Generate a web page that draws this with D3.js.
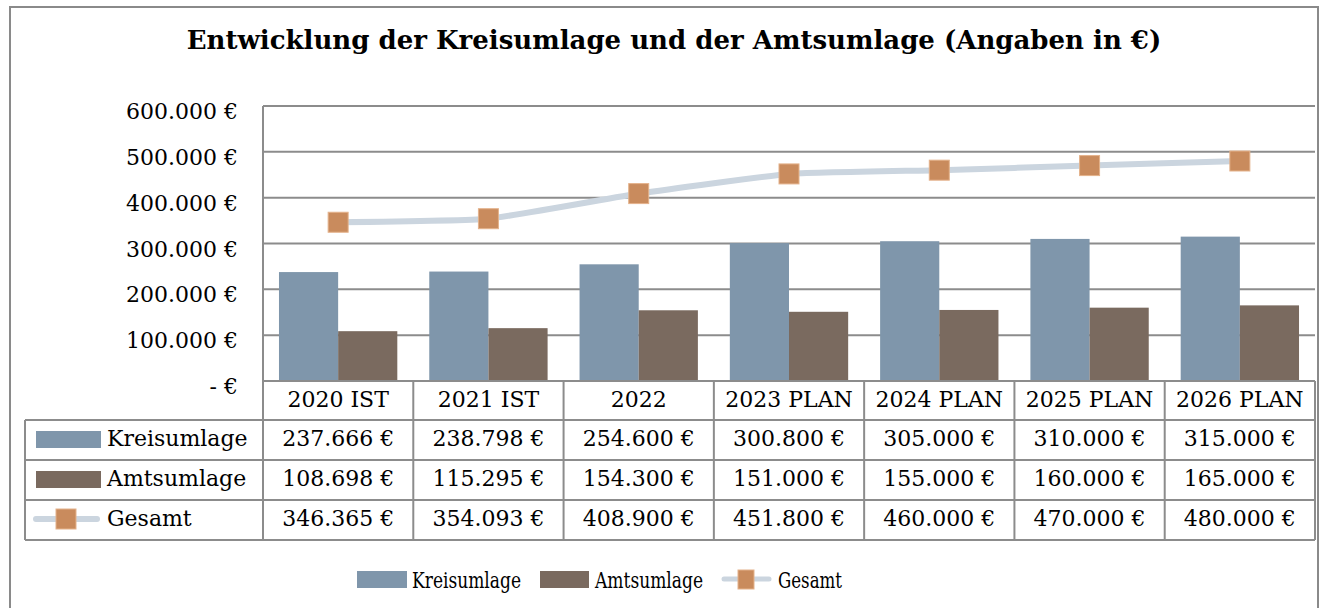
<!DOCTYPE html>
<html>
<head>
<meta charset="utf-8">
<script src="https://cdn.jsdelivr.net/npm/d3@7/dist/d3.min.js"></script>
<style>
  html, body { margin: 0; padding: 0; background: #fff; }
  svg { display: block; }
  text { font-family: "DejaVu Serif", "Liberation Serif", serif; fill: #000; }
</style>
</head>
<body>
<svg id="chart" width="1322" height="608"></svg>
<script>
// ---- data ----
const title = "Entwicklung der Kreisumlage und der Amtsumlage (Angaben in €)";
const categories = ["2020 IST", "2021 IST", "2022", "2023 PLAN", "2024 PLAN", "2025 PLAN", "2026 PLAN"];
const seriesNames = ["Kreisumlage", "Amtsumlage", "Gesamt"];
const kreisumlage = [237666, 238798, 254600, 300800, 305000, 310000, 315000];
const amtsumlage  = [108698, 115295, 154300, 151000, 155000, 160000, 165000];
const gesamt      = [346365, 354093, 408900, 451800, 460000, 470000, 480000];
const yTicks = [0, 100000, 200000, 300000, 400000, 500000, 600000];

// ---- styles ----
const colors = { Kreisumlage: "#7f96ab", Amtsumlage: "#7a6a5f", line: "#cbd5df", marker: "#c98b5d", markerStroke: "#e4b28b" };
const gridColor = "#8c8c8c";

const de = d3.formatLocale({ decimal: ",", thousands: ".", grouping: [3], currency: ["", " €"] });
const num = de.format(",.0f");
const fmt = v => v === 0 ? "- €" : num(v) + " €";

const svg = d3.select("#chart");

// outer frame
svg.append("rect").attr("x", 10).attr("y", 7).attr("width", 1308).attr("height", 620)
  .attr("fill", "none").attr("stroke", "#8a8a8a").attr("stroke-width", 2);

// title
svg.append("text").attr("x", 674).attr("y", 49).attr("text-anchor", "middle")
  .attr("font-weight", "bold").attr("font-size", 26).text(title);

// scales
const plotL = 263, plotR = 1315, plotT = 106, plotB = 381;
const x = d3.scaleBand().domain(categories).range([plotL, plotR]).paddingInner(0).paddingOuter(0);
const x1 = d3.scaleBand().domain(["Kreisumlage", "Amtsumlage"]).range([0, x.bandwidth()]).paddingInner(0).paddingOuter(0.27);
const y = d3.scaleLinear().domain([0, 600000]).range([plotB, plotT]);

// gridlines
svg.append("g").selectAll("line").data(yTicks.filter(d => d > 0)).join("line")
  .attr("x1", plotL).attr("x2", plotR).attr("y1", d => y(d)).attr("y2", d => y(d))
  .attr("stroke", gridColor).attr("stroke-width", 2);

// y axis line
svg.append("line").attr("x1", plotL).attr("x2", plotL).attr("y1", plotT).attr("y2", plotB)
  .attr("stroke", gridColor).attr("stroke-width", 2);

// y labels
svg.append("g").selectAll("text").data(yTicks).join("text")
  .attr("x", 238).attr("y", d => y(d) + 13).attr("text-anchor", "end")
  .attr("font-size", 22).text(fmt);

// bars
const barData = [];
categories.forEach((c, i) => {
  barData.push({ c, s: "Kreisumlage", v: kreisumlage[i] });
  barData.push({ c, s: "Amtsumlage", v: amtsumlage[i] });
});
svg.append("g").selectAll("rect").data(barData).join("rect")
  .attr("x", d => x(d.c) + x1(d.s)).attr("width", x1.bandwidth())
  .attr("y", d => y(d.v)).attr("height", d => y(0) - y(d.v))
  .attr("fill", d => colors[d.s]);

// line
const lineGen = d3.line().x((d, i) => x(categories[i]) + x.bandwidth() / 2).y(d => y(d)).curve(d3.curveCardinal.tension(0.6));
svg.append("path").datum(gesamt).attr("d", lineGen).attr("fill", "none")
  .attr("stroke", colors.line).attr("stroke-width", 6).attr("stroke-linecap", "round");
const ms = 20;
svg.append("g").selectAll("rect").data(gesamt).join("rect")
  .attr("x", (d, i) => x(categories[i]) + x.bandwidth() / 2 - ms / 2)
  .attr("y", d => y(d) - ms / 2).attr("width", ms).attr("height", ms)
  .attr("fill", colors.marker).attr("stroke", colors.markerStroke).attr("stroke-width", 1);

// data table
const rowTops = [381, 420, 460, 500, 540];
const tableL = 25;
const tg = svg.append("g");
const lineAttrs = sel => sel.attr("stroke", gridColor).attr("stroke-width", 2);
tg.append("line").attr("x1", plotL).attr("x2", plotR).attr("y1", rowTops[0]).attr("y2", rowTops[0]).call(lineAttrs);
rowTops.slice(1).forEach(t => tg.append("line").attr("x1", tableL).attr("x2", plotR).attr("y1", t).attr("y2", t).call(lineAttrs));
tg.append("line").attr("x1", tableL).attr("x2", tableL).attr("y1", rowTops[1]).attr("y2", rowTops[4]).call(lineAttrs);
categories.forEach(c => tg.append("line").attr("x1", x(c)).attr("x2", x(c)).attr("y1", rowTops[0]).attr("y2", rowTops[4]).call(lineAttrs));
tg.append("line").attr("x1", plotR).attr("x2", plotR).attr("y1", rowTops[0]).attr("y2", rowTops[4]).call(lineAttrs);

tg.append("g").selectAll("text").data(categories).join("text")
  .attr("x", d => x(d) + x.bandwidth() / 2).attr("y", rowTops[0] + 26)
  .attr("text-anchor", "middle").attr("font-size", 22).text(d => d);

const rows = [kreisumlage, amtsumlage, gesamt];
rows.forEach((vals, r) => {
  tg.append("g").selectAll("text").data(vals).join("text")
    .attr("x", (d, i) => x(categories[i]) + x.bandwidth() / 2).attr("y", rowTops[r + 1] + 26)
    .attr("text-anchor", "middle").attr("font-size", 22).text(fmt);
  tg.append("text").attr("x", 107).attr("y", rowTops[r + 1] + 26).attr("font-size", 22).text(seriesNames[r]);
});
tg.append("rect").attr("x", 36).attr("y", 431).attr("width", 65).attr("height", 17).attr("fill", colors.Kreisumlage);
tg.append("rect").attr("x", 36).attr("y", 471).attr("width", 65).attr("height", 17).attr("fill", colors.Amtsumlage);
tg.append("line").attr("x1", 36).attr("x2", 97).attr("y1", 519).attr("y2", 519)
  .attr("stroke", colors.line).attr("stroke-width", 6).attr("stroke-linecap", "round");
tg.append("rect").attr("x", 56).attr("y", 509).attr("width", ms).attr("height", ms)
  .attr("fill", colors.marker).attr("stroke", colors.markerStroke).attr("stroke-width", 1);

// bottom legend
const lg = svg.append("g");
lg.append("rect").attr("x", 357).attr("y", 571).attr("width", 50).attr("height", 17).attr("fill", colors.Kreisumlage);
lg.append("text").attr("x", 412).attr("y", 588).attr("font-size", 23).attr("textLength", 109).attr("lengthAdjust", "spacingAndGlyphs").text(seriesNames[0]);
lg.append("rect").attr("x", 540).attr("y", 571).attr("width", 49).attr("height", 17).attr("fill", colors.Amtsumlage);
lg.append("text").attr("x", 595).attr("y", 588).attr("font-size", 23).attr("textLength", 108).attr("lengthAdjust", "spacingAndGlyphs").text(seriesNames[1]);
lg.append("line").attr("x1", 724).attr("x2", 769).attr("y1", 579).attr("y2", 579)
  .attr("stroke", colors.line).attr("stroke-width", 5).attr("stroke-linecap", "round");
lg.append("rect").attr("x", 738).attr("y", 570).attr("width", 16).attr("height", 19)
  .attr("fill", colors.marker).attr("stroke", colors.markerStroke).attr("stroke-width", 1);
lg.append("text").attr("x", 778).attr("y", 588).attr("font-size", 23).attr("textLength", 64).attr("lengthAdjust", "spacingAndGlyphs").text(seriesNames[2]);
</script>
</body>
</html>
